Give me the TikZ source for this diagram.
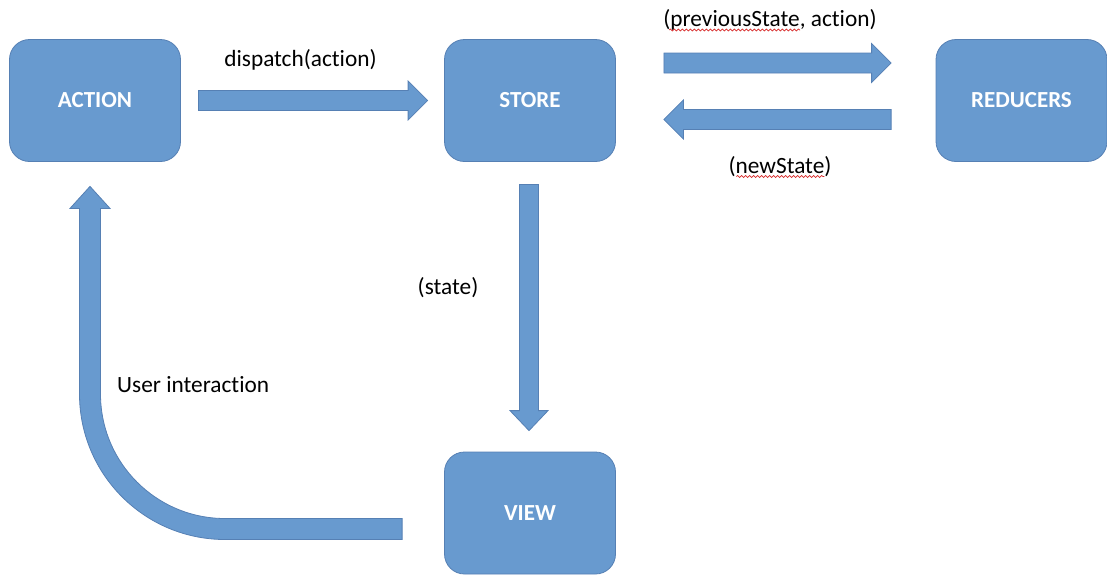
\documentclass[tikz,border=0pt]{standalone}
\usepackage{fontspec}
\setmainfont[Ligatures=NoCommon]{Carlito}
\usetikzlibrary{calc,decorations.pathmorphing}

\definecolor{boxblue}{RGB}{104,154,207}
\definecolor{edgeblue}{RGB}{86,128,180}
\definecolor{waveRed}{RGB}{214,40,40}

% Horizontal block arrow: #1 tail, #2 tip, #3 signed offset from the tip back to the head base
\newcommand\hblockarrow[3]{%
  \filldraw[blockarrow] ($(#1)+(0,-10)$) -- ($(#2)+(#3,-10)$) -- ($(#2)+(#3,-19.5)$) -- (#2)
    -- ($(#2)+(#3,19.5)$) -- ($(#2)+(#3,10)$) -- ($(#1)+(0,10)$) -- cycle;}
% Vertical block arrow: same arguments
\newcommand\vblockarrow[3]{%
  \filldraw[blockarrow] ($(#1)+(-9.5,0)$) -- ($(#2)+(-9.5,#3)$) -- ($(#2)+(-19,#3)$) -- (#2)
    -- ($(#2)+(19,#3)$) -- ($(#2)+(9.5,#3)$) -- ($(#1)+(9.5,0)$) -- cycle;}

\begin{document}
\begin{tikzpicture}[x=1pt,y=-1pt,
  stage/.style={draw=edgeblue, line width=0.8pt, fill=boxblue, rounded corners=20pt,
    minimum width=171pt, minimum height=122pt, inner sep=0pt, text=white,
    font=\fontsize{23}{28}\selectfont\bfseries},
  blockarrow/.style={draw=edgeblue, line width=0.8pt, fill=boxblue, line join=miter},
  lbl/.style={inner sep=0pt, text=black, font=\fontsize{23.3}{28}\selectfont},
  spell/.style={draw=waveRed, line width=0.7pt, decorate,
    decoration={snake, amplitude=1pt, segment length=4pt}}]

\useasboundingbox (0,0) rectangle (1107,574);

% the four stages of the data flow
\node[stage] (action)   at (95,100.5)   {ACTION};
\node[stage] (store)    at (530,100.5)  {STORE};
\node[stage] (reducers) at (1021.5,100.5) {REDUCERS};
\node[stage] (view)     at (530,513)    {VIEW};

% labels of the transitions
\node[lbl, anchor=base]      (dispatchlbl) at (300.5,66) {dispatch(action)};
\node[lbl, anchor=base]      (prevlbl)     at (770,26)   {(previousState, action)};
\node[lbl, anchor=base]      (newlbl)      at (780,173)  {(newState)};
\node[lbl, anchor=base]      (statelbl)    at (448,294)  {(state)};
\node[lbl, anchor=base west] (userlbl)     at (117,392)  {User interaction};

% spell-check marks under the camel-case words
\draw[spell] ($(prevlbl.base west)+(6,4)$) -- ($(prevlbl.base west)+(137,4)$);
\draw[spell] ($(newlbl.base west)+(8,3.5)$) -- ($(newlbl.base west)+(96,3.5)$);

% ACTION -> STORE
\coordinate (d1) at ($(action.east)+(17.5,0)$);
\coordinate (d2) at ($(store.west)+(-16.5,0)$);
\hblockarrow{d1}{d2}{-19.5}

% STORE -> REDUCERS
\coordinate (p1) at ($(store.east)+(48,-37.5)$);
\coordinate (p2) at ($(reducers.west)+(-44.5,-37.5)$);
\hblockarrow{p1}{p2}{-19.5}

% REDUCERS -> STORE
\coordinate (n1) at ($(reducers.west)+(-44.5,19)$);
\coordinate (n2) at ($(store.east)+(48,19)$);
\hblockarrow{n1}{n2}{19.5}

% STORE -> VIEW
\coordinate (s1) at ($(store.south)+(-1,22.5)$);
\coordinate (s2) at ($(view.north)+(-1,-21)$);
\vblockarrow{s1}{s2}{-20}

% VIEW -> ACTION, bent round the lower left corner
\coordinate (ut) at ($(view.west)+(-42,16)$);
\coordinate (uh) at ($(action.south)+(-5,24.5)$);
\coordinate (uc) at (uh |- ut);
\filldraw[blockarrow]
  ($(ut)+(0,10.5)$) -- ($(uc)+(135,10.5)$)
  .. controls ($(uc)+(54.64,10.5)$) and ($(uc)+(-10.5,-54.64)$) .. ($(uc)+(-10.5,-135)$)
  -- ($(uh)+(-10.5,22)$) -- ($(uh)+(-20,22)$) -- (uh) -- ($(uh)+(20,22)$) -- ($(uh)+(10.5,22)$)
  -- ($(uc)+(10.5,-135)$)
  .. controls ($(uc)+(10.5,-66.24)$) and ($(uc)+(66.24,-10.5)$) .. ($(uc)+(135,-10.5)$)
  -- ($(ut)+(0,-10.5)$) -- cycle;

\end{tikzpicture}
\end{document}
